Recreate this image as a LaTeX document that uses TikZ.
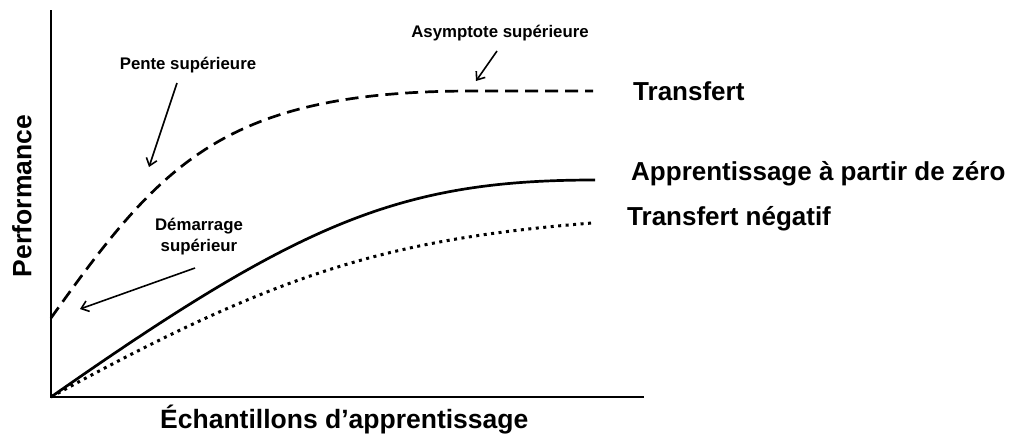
\documentclass[tikz,border=0pt]{standalone}
\usepackage{fontspec}
\setmainfont{Liberation Sans}
\usetikzlibrary{arrows.meta}
\begin{document}
\begin{tikzpicture}[x=1pt,y=-1pt,
  axis/.style={line width=2.8pt,line cap=rect},
  curve/.style={line width=2.7pt},
  transfer/.style={curve,dash pattern=on 13pt off 7pt},
  scratch/.style={curve},
  negative/.style={line width=3pt,dash pattern=on 3pt off 4.5pt},
  pointer/.style={line width=1.6pt,-{Straight Barb[length=7pt,width=11pt,line width=1.6pt]}},
  note/.style={font=\bfseries\fontsize{16.8}{21}\selectfont,align=center,inner sep=0pt},
  legend/.style={font=\bfseries\fontsize{26}{30}\selectfont,anchor=base west,inner sep=0pt},
  axislabel/.style={font=\bfseries\fontsize{26.5}{30}\selectfont,inner sep=0pt}]
\useasboundingbox (0,0) rectangle (1014,439);

% axes
\coordinate (origin) at (51,397);
\coordinate (ytop) at (51,11);
\coordinate (xend) at (643,397);
\draw[axis] (ytop) -- (origin) -- (xend);

% learning curves
\coordinate (transferStart) at (51,318);
\coordinate (transferFlat) at (473,91);
\coordinate (transferEnd) at (593,91);
\coordinate (scratchEnd) at (595,180);
\coordinate (negativeEnd) at (592,223);
\draw[transfer] (transferStart) .. controls (161,164) and (223,91) .. (transferFlat) -- (transferEnd);
\draw[scratch] (origin) .. controls (301,222) and (400,180) .. (scratchEnd);
\draw[negative] (origin) .. controls (281,270.5) and (392,239) .. (negativeEnd);

% curve names
\node[legend] (lTransfer) at (633,100) {Transfert};
\node[legend] (lScratch) at (631,180) {Apprentissage à partir de zéro};
\node[legend] (lNegative) at (627,225) {Transfert négatif};

% axis titles
\node[axislabel,rotate=90] (lPerf) at (22,196) {Performance};
\node[axislabel,anchor=base west] (lSamples) at (160,428) {Échantillons d’apprentissage};

% annotations
\node[note] (nSlope) at (188,65) {Pente supérieure};
\node[note] (nAsym) at (500,33) {Asymptote supérieure};
\node[note] (nStart) at (199,237) {Démarrage\\supérieur};

\coordinate (slopeFrom) at (177,83);
\coordinate (slopeTip) at (149,167);
\coordinate (asymFrom) at (497,51);
\coordinate (asymTip) at (476,81);
\coordinate (startFrom) at (195,268);
\coordinate (startTip) at (80,309);
\draw[pointer] (slopeFrom) -- (slopeTip);
\draw[pointer] (asymFrom) -- (asymTip);
\draw[pointer] (startFrom) -- (startTip);
\end{tikzpicture}
\end{document}
